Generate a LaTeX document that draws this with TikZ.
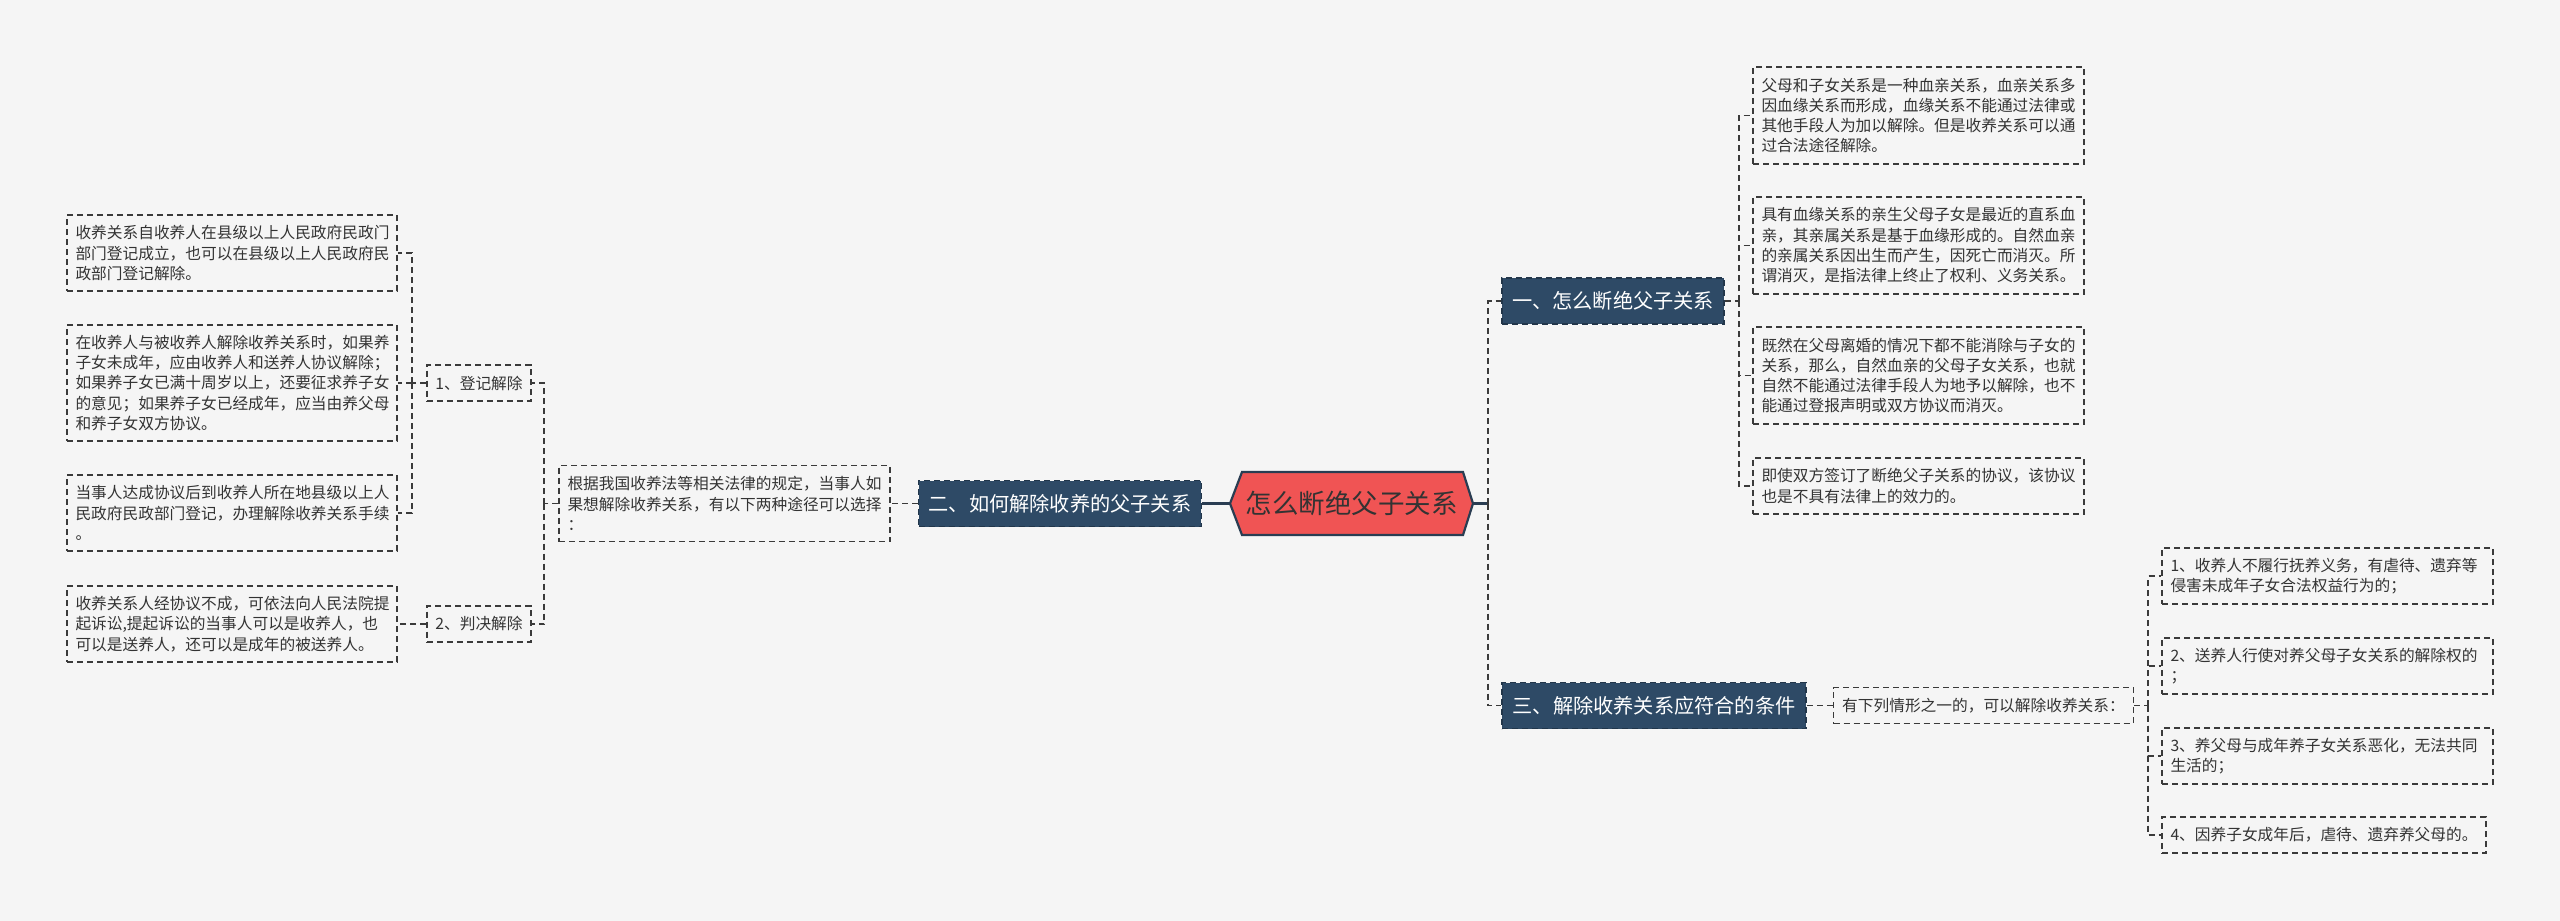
\documentclass[tikz,border=0pt]{standalone}
\usepackage{fontspec}
\setmainfont{Noto Sans CJK SC}
\definecolor{bg}{HTML}{F5F5F5}
\definecolor{linec}{HTML}{3A3A3A}
\definecolor{textc}{HTML}{333333}
\definecolor{navy}{HTML}{2E4A66}
\definecolor{navyb}{HTML}{22364A}
\definecolor{hexfill}{HTML}{F05454}
\definecolor{hexb}{HTML}{2A3D52}
\begin{document}
\begin{tikzpicture}[x=1pt,y=-1pt,
  txt/.style={draw=linec, line width=1.5pt, dash pattern=on 6pt off 4pt, fill=bg,
    text=textc, font=\fontsize{15.7}{20.3}\selectfont, align=left,
    inner xsep=8.5pt, inner ysep=0pt},
  lbl/.style={draw=linec, line width=1.5pt, dash pattern=on 6pt off 4pt, fill=bg,
    text=textc, font=\fontsize{15.7}{20.3}\selectfont,
    inner xsep=8.5pt, inner ysep=0pt, minimum height=36pt},
  topic/.style={fill=navy, draw=navyb, line width=1.5pt, dash pattern=on 6pt off 4pt,
    text=white, font=\fontsize{20.2}{24}\selectfont, inner xsep=10pt, inner ysep=0pt,
    minimum height=46pt},
  conn/.style={draw=linec, line width=1.5pt, dash pattern=on 6pt off 4pt},
  hconn/.style={draw=hexb, line width=2.2pt}]
\useasboundingbox[fill=bg] (0,0) rectangle (2560,921);

% central hexagon
\draw[fill=hexfill, draw=hexb, line width=2.2pt] (1230,503.5) -- (1242,472) -- (1463,472) -- (1473,503.5) -- (1463,535) -- (1242,535) -- cycle;
\node[minimum width=243pt, minimum height=63pt, inner sep=0pt, text=textc,
  font=\fontsize{26.5}{30}\selectfont] (c) at (1351.5,503.5) {怎么断绝父子关系};

% main topics
\node[topic, minimum width=222pt] (b1) at (1613,301) {一、怎么断绝父子关系};
\node[topic, minimum width=282pt] (b2) at (1060,503.5) {二、如何解除收养的父子关系};
\node[topic, minimum width=304pt] (b3) at (1654,705.5) {三、解除收养关系应符合的条件};

% right upper details
\node[txt, text width=314pt, minimum height=97pt] (r1) at (1918.5,115.5)
  {父母和子女关系是一种血亲关系，血亲关系多\\因血缘关系而形成，血缘关系不能通过法律或\\其他手段人为加以解除。但是收养关系可以通\\过合法途径解除。};
\node[txt, text width=314pt, minimum height=97pt] (r2) at (1918.5,245.5)
  {具有血缘关系的亲生父母子女是最近的直系血\\亲，其亲属关系是基于血缘形成的。自然血亲\\的亲属关系因出生而产生，因死亡而消灭。所\\谓消灭，是指法律上终止了权利、义务关系。};
\node[txt, text width=314pt, minimum height=97pt] (r3) at (1918.5,375.5)
  {既然在父母离婚的情况下都不能消除与子女的\\关系，那么，自然血亲的父母子女关系，也就\\自然不能通过法律手段人为地予以解除，也不\\能通过登报声明或双方协议而消灭。};
\node[txt, text width=314pt, minimum height=56pt] (r4) at (1918.5,486)
  {即使双方签订了断绝父子关系的协议，该协议\\也是不具有法律上的效力的。};

% right lower
\node[lbl, minimum width=299pt] (s) at (1983.5,705.5) {有下列情形之一的，可以解除收养关系：};
\node[txt, text width=314pt, minimum height=56pt] (k1c) at (2327.5,576)
  {1、收养人不履行抚养义务，有虐待、遗弃等\\侵害未成年子女合法权益行为的；};
\node[txt, text width=314pt, minimum height=56pt] (k2c) at (2327.5,666)
  {2、送养人行使对养父母子女关系的解除权的\\；};
\node[txt, text width=314pt, minimum height=56pt] (k3c) at (2327.5,756)
  {3、养父母与成年养子女关系恶化，无法共同\\生活的；};
\node[lbl, minimum width=324pt] (k4c) at (2324,835) {4、因养子女成年后，虐待、遗弃养父母的。};

% left side
\node[txt, text width=314pt, minimum height=76pt] (m) at (724.5,503.5)
  {根据我国收养法等相关法律的规定，当事人如\\果想解除收养关系，有以下两种途径可以选择\\：};
\node[lbl, minimum width=104pt] (k1) at (479,383) {1、登记解除};
\node[lbl, minimum width=104pt] (k2) at (479,624) {2、判决解除};
\node[txt, text width=313pt, minimum height=76pt] (l1) at (232,253)
  {收养关系自收养人在县级以上人民政府民政门\\部门登记成立，也可以在县级以上人民政府民\\政部门登记解除。};
\node[txt, text width=313pt, minimum height=116pt] (l2) at (232,383)
  {在收养人与被收养人解除收养关系时，如果养\\子女未成年，应由收养人和送养人协议解除；\\如果养子女已满十周岁以上，还要征求养子女\\的意见；如果养子女已经成年，应当由养父母\\和养子女双方协议。};
\node[txt, text width=313pt, minimum height=76pt] (l3) at (232,513)
  {当事人达成协议后到收养人所在地县级以上人\\民政府民政部门登记，办理解除收养关系手续\\。};
\node[txt, text width=313pt, minimum height=76pt] (l4) at (232,624)
  {收养关系人经协议不成，可依法向人民法院提\\起诉讼,提起诉讼的当事人可以是收养人，也\\可以是送养人，还可以是成年的被送养人。};

% connectors: centre
\coordinate (hs) at (1488,503.5);
\draw[hconn] (b2.east) -- (c.west);
\draw[hconn] (c.east) -- (hs);
\draw[conn] (hs) |- (b1.west);
\draw[conn] (hs) |- (b3.west);

% topic 1
\coordinate (s1) at (1739,301);
\draw[conn] (b1.east) -- (s1);
\foreach \n in {r1,r2,r3,r4} \draw[conn] (s1) |- (\n.west);

% topic 3
\draw[conn] (b3.east) -- (s.west);
\coordinate (s3) at (2148,705.5);
\draw[conn] (s.east) -- (s3);
\foreach \n in {k1c,k2c,k3c,k4c} \draw[conn] (s3) |- (\n.west);

% topic 2
\draw[conn] (b2.west) -- (m.east);
\coordinate (s2) at (544,503.5);
\draw[conn] (m.west) -- (s2);
\draw[conn] (s2) |- (k1.east);
\draw[conn] (s2) |- (k2.east);
\coordinate (sk) at (412,383);
\draw[conn] (k1.west) -- (sk);
\foreach \n in {l1,l2,l3} \draw[conn] (sk) |- (\n.east);
\draw[conn] (k2.west) -- (l4.east);
\end{tikzpicture}
\end{document}
